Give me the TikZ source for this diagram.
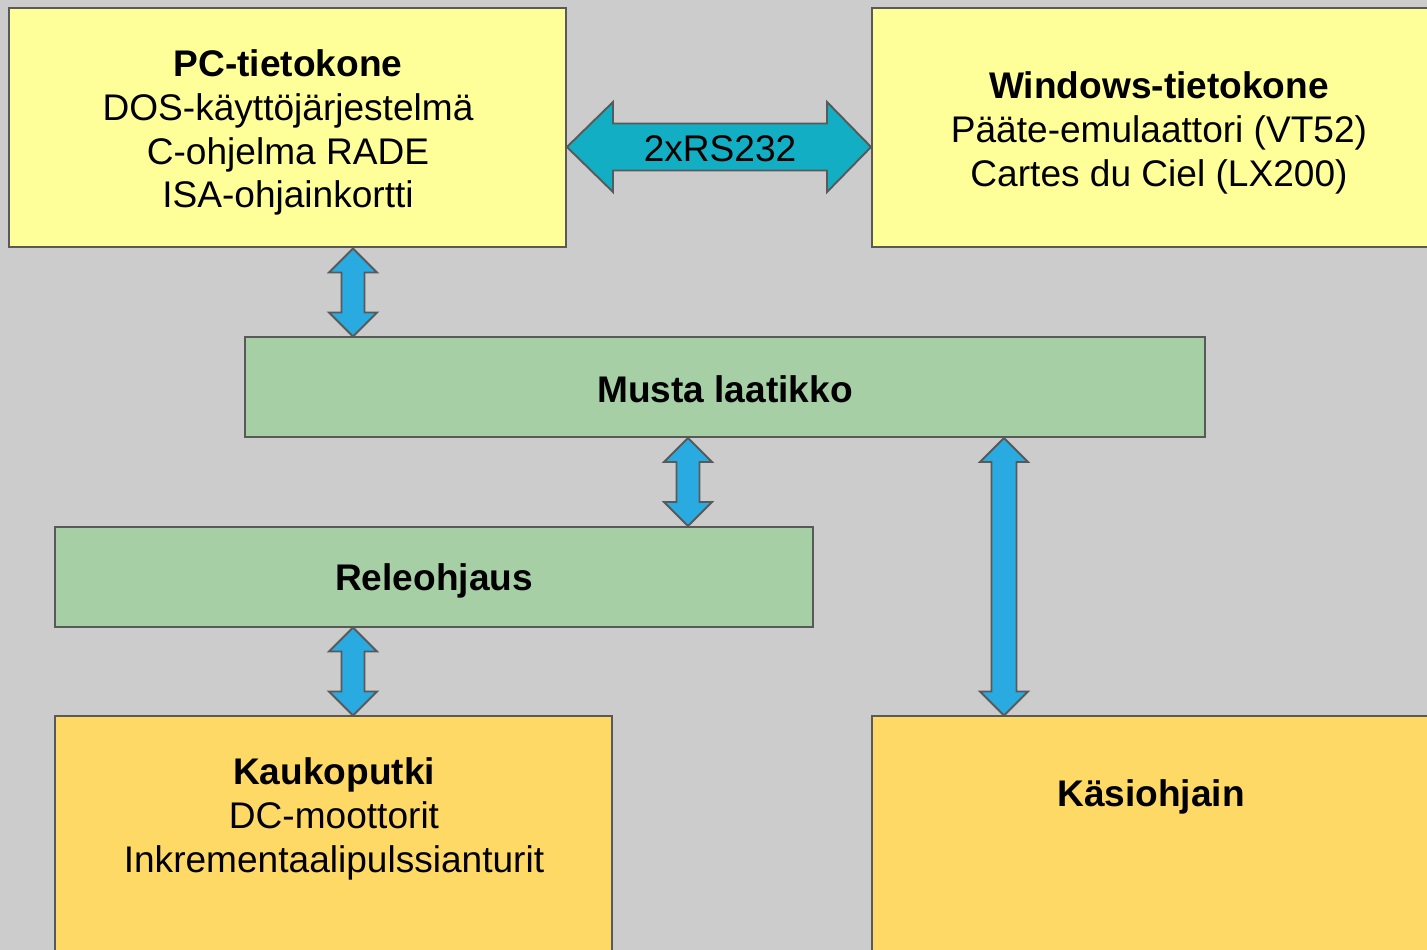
\documentclass[tikz,border=0pt]{standalone}
\usepackage{fontspec}
\setmainfont{Liberation Sans}
\usetikzlibrary{fit}
\definecolor{bg}{HTML}{CCCCCC}
\definecolor{yel}{HTML}{FFFF99}
\definecolor{grn}{HTML}{A6CFA6}
\definecolor{org}{HTML}{FFD966}
\definecolor{blu}{HTML}{29ABE2}
\definecolor{teal2}{HTML}{12AEC4}
\definecolor{edge}{HTML}{595959}
\tikzset{
  box/.style={draw=edge, line width=1.1pt, inner sep=0pt},
  lbl/.style={font=\fontsize{21.1}{25}\selectfont, align=center, inner sep=0pt, text=black},
  barrow/.style={draw=edge, line width=1.1pt, fill=blu, line join=miter},
}
% vertical double block arrow: x, ytop, ybottom, half shaft
\newcommand\vdarr[4]{%
  \draw[barrow] (#1,#2) -- (#1+24,#2+24) -- (#1+#4,#2+24) -- (#1+#4,#3-24)
    -- (#1+24,#3-24) -- (#1,#3) -- (#1-24,#3-24) -- (#1-#4,#3-24)
    -- (#1-#4,#2+24) -- (#1-24,#2+24) -- cycle;}
\begin{document}
\begin{tikzpicture}[x=0.02cm, y=-0.02cm]
\useasboundingbox (0,0) rectangle (1427,950);
\clip (0,0) rectangle (1427,950);
\fill[bg] (0,0) rectangle (1427,950);

% boxes
\node[box, fill=yel, fit={(9,8) (566,247)}] (pc) {};
\node[box, fill=yel, fit={(872,8) (1446,247)}] (win) {};
\node[box, fill=grn, fit={(245,337) (1205,437)}] (musta) {};
\node[box, fill=grn, fit={(55,527) (813,627)}] (rele) {};
\node[box, fill=org, fit={(55,716) (612,980)}] (kauko) {};
\node[box, fill=org, fit={(872,716) (1440,980)}] (kasi) {};

% texts
\node[lbl] (pct) at (288,132.5) {\textbf{PC-tietokone}\\DOS-käyttöjärjestelmä\\C-ohjelma RADE\\ISA-ohjainkortti};
\node[lbl] (wint) at (1159,132.5) {\textbf{Windows-tietokone}\\Pääte-emulaattori (VT52)\\Cartes du Ciel (LX200)};
\node[lbl] (mustat) at (725,389) {\textbf{Musta laatikko}};
\node[lbl] (relet) at (434,580.5) {\textbf{Releohjaus}};
\node[lbl] (kaukot) at (334,818.5) {\textbf{Kaukoputki}\\DC-moottorit\\Inkrementaalipulssianturit};
\node[lbl] (kasit) at (1151,796.5) {\textbf{Käsiohjain}};

% horizontal double arrow 2xRS232
\draw[barrow, fill=teal2] (pc.east |- 0,147) -- (613,102) -- (613,123.5) -- (827,123.5) -- (827,102)
  -- (win.west |- 0,147) -- (827,192) -- (827,170.5) -- (613,170.5) -- (613,192) -- cycle;
\node[lbl] (rs) at (720,148.5) {2xRS232};

% vertical arrows
\vdarr{353}{248.5}{336.5}{11.5}
\vdarr{688}{438}{526}{11.5}
\vdarr{1004}{438}{715.5}{12.5}
\vdarr{353}{627.5}{715.5}{11.5}
\end{tikzpicture}
\end{document}
